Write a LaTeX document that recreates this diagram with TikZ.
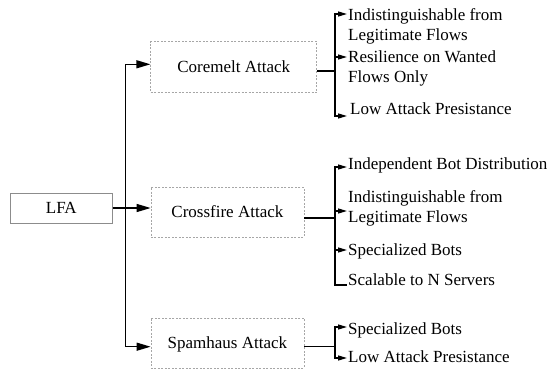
\documentclass[tikz,border=0pt]{standalone}
\usepackage{fontspec}
\setmainfont{Liberation Serif}
\usetikzlibrary{arrows.meta}
\begin{document}
\begin{tikzpicture}[x=1pt,y=-1pt,
  lbl/.style={font=\fontsize{17}{20}\selectfont},
  rootbox/.style={draw=black!45, line width=0.7pt, minimum width=102pt,
    minimum height=30pt, inner sep=0pt, lbl, text height=11.5pt, text depth=1pt},
  attackbox/.style={draw=black!35, dash pattern=on 2pt off 1.5pt, line width=0.6pt,
    minimum height=50pt, inner sep=0pt, lbl, text height=11.5pt, text depth=1pt},
  leaf/.style={lbl, inner sep=0pt, align=left},
  trunk/.style={line width=1.3pt},
  mainarrow/.style={trunk, -{Triangle[length=14pt,width=8pt]}},
  leafarrow/.style={trunk, -{Triangle[length=9pt,width=5pt]}},
]
\useasboundingbox (0,0) rectangle (548,369);

% root and the three attack types
\node[rootbox] (lfa) at (61.3,208) {LFA};
\node[attackbox, minimum width=166pt, minimum height=51pt] (cm) at (233.7,67.2) {Coremelt Attack};
\node[attackbox, minimum width=153pt] (cf) at (227.4,212) {Crossfire Attack};
\node[attackbox, minimum width=153pt] (sp) at (227.4,342.9) {Spamhaus Attack};

% main trunk
\coordinate (tTop) at (125.5,64.3);
\coordinate (tBot) at (125.5,346.7);
\draw[mainarrow] (lfa.east) -- (lfa.east -| cf.west);
\draw[mainarrow] (lfa.east -| tTop) |- (tTop -| cm.west);
\draw[mainarrow] (lfa.east -| tBot) |- (tBot -| sp.west);

% Coremelt properties
\coordinate (cmJ) at (335,71);
\coordinate (c1t) at (347,14);
\coordinate (c2t) at (347,57);
\coordinate (c3t) at (347,116);
\node[leaf, anchor=north west] (c1) at (348,8.3) {Indistinguishable from\\Legitimate Flows};
\node[leaf, anchor=north west] (c2) at (348,50.4) {Resilience on Wanted\\Flows Only};
\node[leaf, anchor=base west] (c3) at (350,114) {Low Attack Presistance};
\draw[trunk] (cmJ -| cm.east) -- (cmJ);
\draw[leafarrow] (cmJ) |- (c1t);
\draw[leafarrow] (cmJ) |- (c2t);
\draw[leafarrow] (cmJ) |- (c3t);

% Crossfire properties
\coordinate (cfJ) at (335,218);
\coordinate (f1t) at (347,167);
\coordinate (f2t) at (347,211);
\coordinate (f3t) at (347,250);
\coordinate (f4t) at (347,285);
\node[leaf, anchor=base west] (f1) at (348,169.3) {Independent Bot Distribution};
\node[leaf, anchor=north west] (f2) at (348,190) {Indistinguishable from\\Legitimate Flows};
\node[leaf, anchor=base west] (f3) at (348,255) {Specialized Bots};
\node[leaf, anchor=base west] (f4) at (348,285.7) {Scalable to N Servers};
\draw[trunk] (cfJ -| cf.east) -- (cfJ);
\draw[leafarrow] (cfJ) |- (f1t);
\draw[leafarrow] (cfJ) |- (f2t);
\draw[leafarrow] (cfJ) |- (f3t);
\draw[trunk] (cfJ) |- (f4t);

% Spamhaus properties
\coordinate (spJ) at (335,346.7);
\coordinate (s1t) at (347,327);
\coordinate (s2t) at (347,358);
\node[leaf, anchor=base west] (s1) at (348,334.3) {Specialized Bots};
\node[leaf, anchor=base west] (s2) at (348,362.3) {Low Attack Presistance};
\draw[trunk] (spJ -| sp.east) -- (spJ);
\draw[leafarrow] (spJ) |- (s1t);
\draw[leafarrow] (spJ) |- (s2t);
\end{tikzpicture}
\end{document}
